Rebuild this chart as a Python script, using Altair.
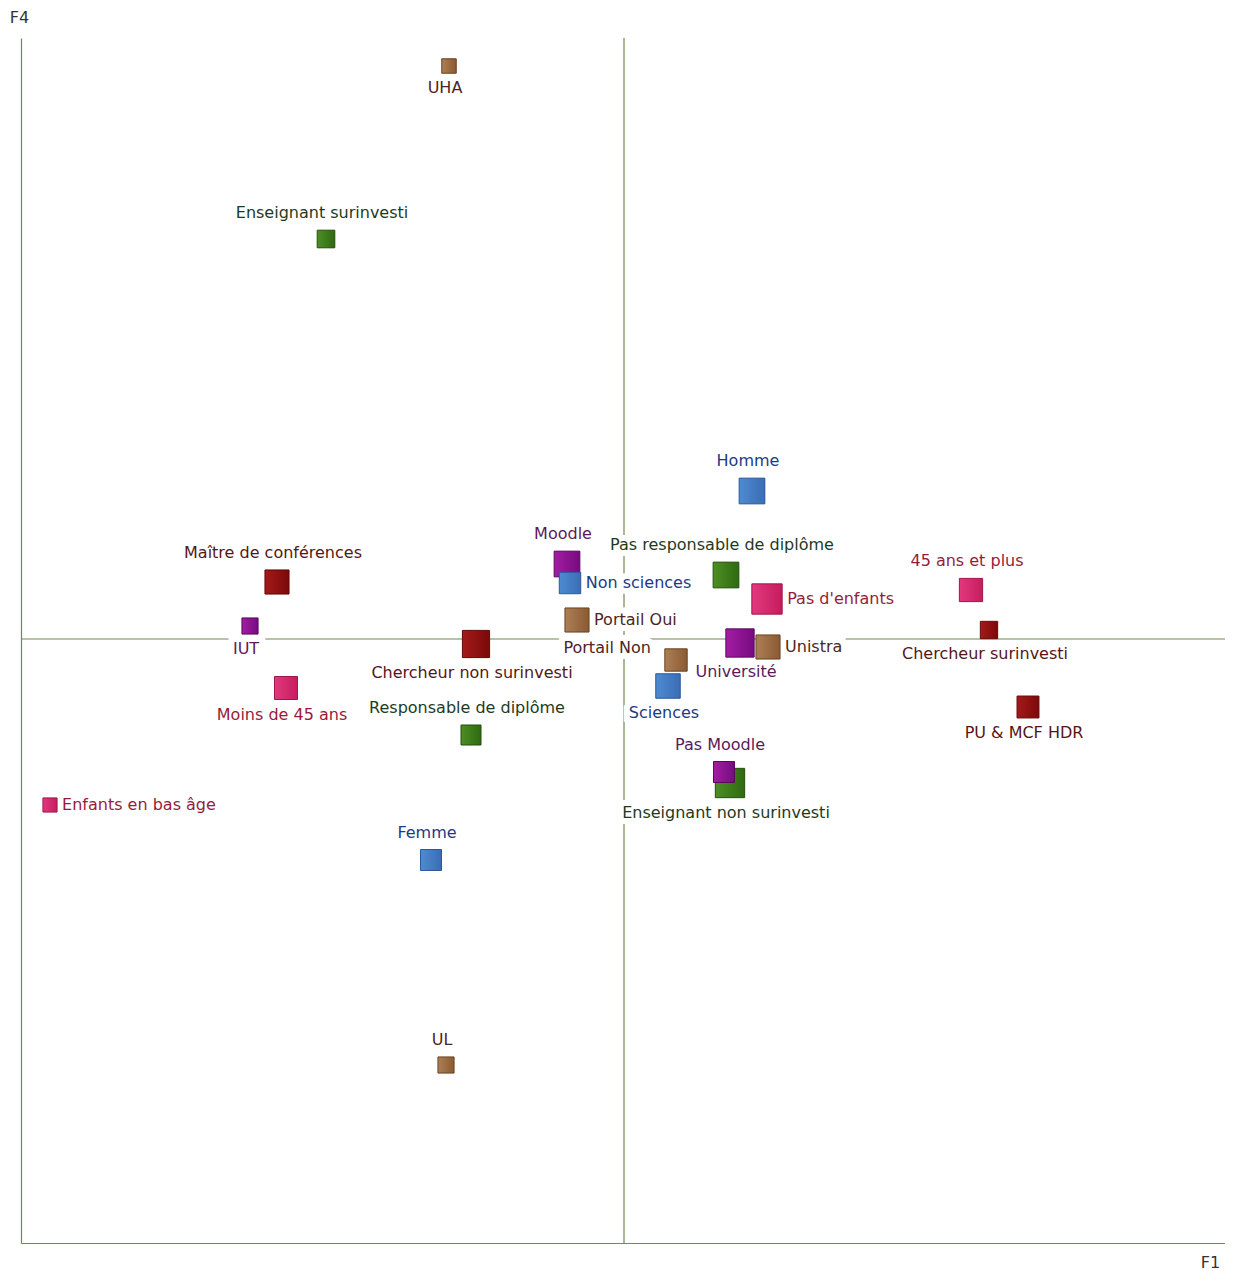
import altair as alt
import pandas as pd

# ---- data ----
libelles = [
    "UHA", "Enseignant surinvesti", "Homme", "Moodle", "Non sciences",
    "Pas responsable de diplôme", "Pas d'enfants", "Portail Oui", "Portail Non",
    "Université", "Unistra", "Sciences", "45 ans et plus", "Chercheur surinvesti",
    "PU & MCF HDR", "Maître de conférences", "IUT", "Chercheur non surinvesti",
    "Moins de 45 ans", "Responsable de diplôme", "Enfants en bas âge", "Femme",
    "Pas Moodle", "Enseignant non surinvesti", "UL",
]
f1 = [
    -0.175, -0.298, 0.128, -0.057, -0.054,
    0.102, 0.143, -0.047, 0.052,
    0.116, 0.144, 0.044, 0.347, 0.365,
    0.404, -0.347, -0.374, -0.148,
    -0.338, -0.153, -0.574, -0.193,
    0.100, 0.106, -0.178,
]
f4 = [
    0.573, 0.400, 0.148, 0.075, 0.056,
    0.064, 0.040, 0.019, -0.021,
    -0.004, -0.008, -0.047, 0.049, 0.009,
    -0.068, 0.057, 0.013, -0.005,
    -0.049, -0.096, -0.166, -0.221,
    -0.133, -0.144, -0.426,
]
masse = [
    2.1, 3.1, 6.6, 6.6, 4.6,
    6.6, 9.2, 5.8, 5.0,
    8.0, 5.8, 6.0, 5.4, 3.0,
    4.8, 5.8, 2.6, 7.4,
    5.3, 4.0, 2.0, 4.4,
    4.4, 8.6, 2.6,
]
groupe = [
    "universite", "enseignant", "sexe", "plateforme", "sexe",
    "enseignant", "age", "universite", "universite",
    "plateforme", "universite", "sexe", "age", "chercheur",
    "chercheur", "chercheur", "plateforme", "chercheur",
    "age", "enseignant", "age", "sexe",
    "plateforme", "enseignant", "universite",
]
placement = [
    "bas", "haut", "haut", "haut", "droite",
    "haut", "droite", "droite", "gauche",
    "bas", "droite", "bas", "haut", "bas",
    "bas", "haut", "bas", "bas",
    "bas", "haut", "droite", "haut",
    "haut", "bas", "haut",
]

# group styles: (gradient light, gradient dark, stroke, label colour)
groupes = ["enseignant", "plateforme", "sexe", "universite", "chercheur", "age"]
styles = {
    "enseignant": ("#4E8E24", "#2E6A10", "#234D0E", "#1E3A1E"),
    "plateforme": ("#A31DA3", "#770B80", "#58095E", "#5A1A5C"),
    "sexe": ("#4E8BD0", "#3A6DB6", "#2A589C", "#1C3A84"),
    "universite": ("#AD7F55", "#8A5B32", "#6A4222", "#4E2424"),
    "chercheur": ("#A31A1A", "#7C0909", "#640808", "#561616"),
    "age": ("#E2387D", "#C61D5F", "#9E1748", "#961B3C"),
}

df = pd.DataFrame({
    "libelle": libelles, "f1": f1, "f4": f4, "masse": masse,
    "groupe": groupe, "placement": placement,
})

AXC = "#6E8A4C"
FONT = "DejaVu Sans"
XDOM = [-0.603, 0.603]
YDOM = [-0.604, 0.601]
W, H = 1206, 1205
PX = (XDOM[1] - XDOM[0]) / W  # data units per pixel

xscale = alt.Scale(domain=XDOM, nice=False, zero=False)
yscale = alt.Scale(domain=YDOM, nice=False, zero=False)

xaxis = alt.Axis(
    title="F1", domain=True, domainColor=AXC, domainWidth=1.2, ticks=False,
    labels=False, grid=False, titleAngle=0, titleX=1189, titleY=19,
    titleAlign="center", titleBaseline="middle", titleFont=FONT,
    titleFontSize=16, titleFontWeight="normal", titleColor="#333333",
)
yaxis = alt.Axis(
    title="F4", domain=True, domainColor=AXC, domainWidth=1.2, ticks=False,
    labels=False, grid=False, titleAngle=0, titleX=-2, titleY=-21,
    titleAlign="center", titleBaseline="middle", titleFont=FONT,
    titleFontSize=16, titleFontWeight="normal", titleColor="#333333",
)

xenc = alt.X("f1:Q", scale=xscale, axis=xaxis)
yenc = alt.Y("f4:Q", scale=yscale, axis=yaxis)

base = alt.Chart(df)

zero_df = pd.DataFrame({"zero": [0.0]})
vline = alt.Chart(zero_df).mark_rule(color=AXC, strokeWidth=1.2).encode(x=alt.X("zero:Q", scale=xscale, axis=xaxis))
hline = alt.Chart(zero_df).mark_rule(color=AXC, strokeWidth=1.2).encode(y=alt.Y("zero:Q", scale=yscale, axis=yaxis))

size_enc = alt.Size("masse:Q", scale=alt.Scale(domain=[0, 10], range=[0, 1000], zero=True), legend=None)

squares = []
for g in groupes:
    c1, c2, st, _ = styles[g]
    grad = alt.Gradient(
        gradient="linear",
        stops=[alt.GradientStop(color=c1, offset=0), alt.GradientStop(color=c2, offset=1)],
        x1=0, x2=1, y1=0, y2=0,
    )
    squares.append(
        base.transform_filter(alt.datum.groupe == g)
        .mark_square(fill=grad, stroke=st, strokeWidth=1, opacity=1, filled=True)
        .encode(x=xenc, y=yenc, size=size_enc)
    )

label_color = alt.Color(
    "groupe:N",
    scale=alt.Scale(domain=groupes, range=[styles[g][3] for g in groupes]),
    legend=None,
)

# label anchor: offset (in pixels) from the square, converted to data units
lab_base = base.transform_calculate(
    half="sqrt(datum.masse * 100) / 2",
).transform_calculate(
    lx="datum.placement == 'droite' ? datum.half + 5 : (datum.placement == 'gauche' ? -(datum.half + 14) : -4)",
    ly="datum.placement == 'haut' ? -(datum.half + 17) : (datum.placement == 'bas' ? datum.half + 15 : (datum.placement == 'gauche' ? -12.5 : -0.5))",
).transform_calculate(
    lab_x=f"datum.f1 + datum.lx * {PX}",
    lab_y=f"datum.f4 - datum.ly * {PX}",
)

label_groups = [(["haut", "bas"], "center"), (["droite"], "left"), (["gauche"], "right")]

# white boxes behind labels (they interrupt the axis lines, as in the reference)
halos = []
labels = []
for places, al in label_groups:
    sub = lab_base.transform_filter(alt.FieldOneOfPredicate(field="placement", oneOf=places))
    pos = dict(
        x=alt.X("lab_x:Q", scale=xscale, axis=xaxis),
        y=alt.Y("lab_y:Q", scale=yscale, axis=yaxis),
        text="libelle:N",
    )
    halos.append(
        sub.mark_text(align=al, baseline="middle", font=FONT, fontSize=16,
                      fill="white", stroke="white", strokeWidth=12, strokeJoin="miter")
        .encode(**pos)
    )
    labels.append(
        sub.mark_text(align=al, baseline="middle", font=FONT, fontSize=16)
        .encode(color=label_color, **pos)
    )

chart = alt.layer(vline, hline, *halos, *squares, *labels).properties(
    width=W, height=H,
    autosize=alt.AutoSizeParams(type="none"),
    padding={"left": 13, "top": 30, "right": -2, "bottom": 28},
    background="white",
).configure_view(stroke=None)

chart.save("out.html", embed_options={"renderer": "svg", "actions": False})
